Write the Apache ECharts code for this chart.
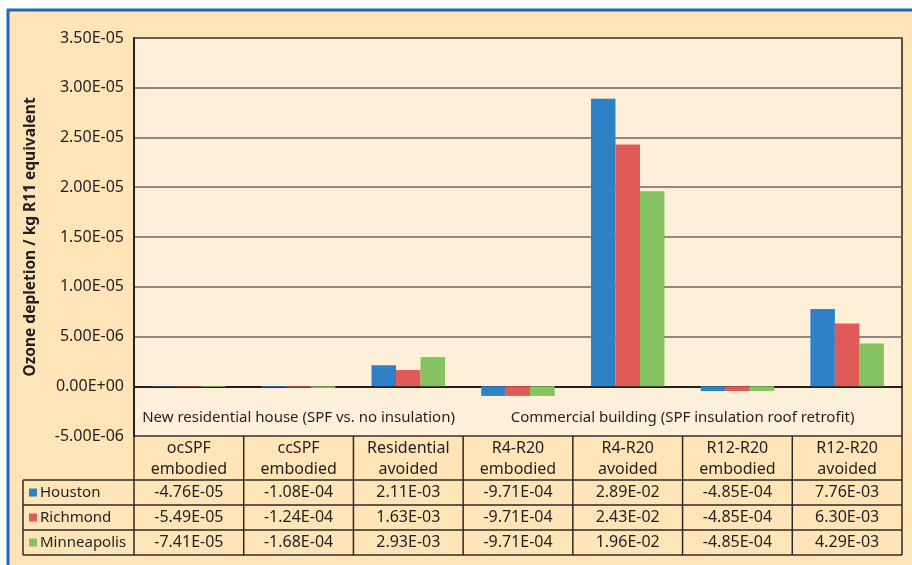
<!DOCTYPE html>
<html>
<head>
<meta charset="utf-8">
<script src="https://cdn.jsdelivr.net/npm/echarts@6/dist/echarts.min.js"></script>
<style>
  html, body { margin: 0; padding: 0; background: #fff; }
  #chart { width: 912px; height: 565px; }
</style>
</head>
<body>
<div id="chart"></div>
<script>
// categories (two header lines each)
const categories = [
  'ocSPF\nembodied', 'ccSPF\nembodied', 'Residential\navoided',
  'R4-R20\nembodied', 'R4-R20\navoided', 'R12-R20\nembodied', 'R12-R20\navoided'
]
const cities = ['Houston', 'Richmond', 'Minneapolis']
const colors = ['#2e81c4', '#e05a57', '#84c262']

// values printed in the table
const houstonTable     = [-4.76e-5, -1.08e-4, 2.11e-3, -9.71e-4, 2.89e-2, -4.85e-4, 7.76e-3]
const richmondTable    = [-5.49e-5, -1.24e-4, 1.63e-3, -9.71e-4, 2.43e-2, -4.85e-4, 6.30e-3]
const minneapolisTable = [-7.41e-5, -1.68e-4, 2.93e-3, -9.71e-4, 1.96e-2, -4.85e-4, 4.29e-3]

// values plotted as bars (kg R11 eq.)
const houstonBars     = [-4.76e-8, -1.08e-7, 2.11e-6, -9.71e-7, 2.89e-5, -4.85e-7, 7.76e-6]
const richmondBars    = [-5.49e-8, -1.24e-7, 1.63e-6, -9.71e-7, 2.43e-5, -4.85e-7, 6.30e-6]
const minneapolisBars = [-7.41e-8, -1.68e-7, 2.93e-6, -9.71e-7, 1.96e-5, -4.85e-7, 4.29e-6]

const groupLabels = [
  { text: 'New residential house (SPF vs. no insulation)', from: 0, to: 3 },
  { text: 'Commercial building (SPF insulation roof retrofit)', from: 3, to: 7 }
]

const tables = [houstonTable, richmondTable, minneapolisTable]
const bars = [houstonBars, richmondBars, minneapolisBars]

function sci (v) {
  const s = v.toExponential(2)
  const parts = s.split('e')
  const sign = parts[1][0]
  const exp = parts[1].slice(1).padStart(2, '0')
  return parts[0] + 'E' + sign + exp
}

// layout
const W = 912
const gridL = 134, gridT = 38, gridR = 10, gridB = 436
const colW = (W - gridL - gridR) / categories.length
const tableL = 23
const rowY = [436, 480, 505, 530, 555]
const font = '"Noto Sans", sans-serif'
const lineColor = '#2e2a26'

const graphic = []
function line (x1, y1, x2, y2, w, c) {
  graphic.push({ type: 'line', z: 100, shape: { x1, y1, x2, y2 },
    style: { stroke: c || lineColor, lineWidth: w || 1.5 } })
}
function text (t, x, y, size, align) {
  graphic.push({ type: 'text', z: 101, style: {
    text: t, x, y, fill: '#231f20', fontSize: size || 16, fontFamily: font,
    align: align || 'center', verticalAlign: 'middle',
    textAlign: align || 'center', textVerticalAlign: 'middle', lineHeight: 21 } })
}

// white margins and blue frame
graphic.push({ type: 'rect', z: 90, shape: { x: 0, y: 0, width: W, height: 9 }, style: { fill: '#fff' } })
graphic.push({ type: 'rect', z: 90, shape: { x: 0, y: 0, width: 7, height: 565 }, style: { fill: '#fff' } })
line(7, 10, W, 10, 3, '#1f6db0')
line(8, 9, 8, 565, 3, '#1f6db0')

// table grid
for (let k = 0; k <= categories.length; k++) {
  const x = gridL + k * colW
  line(x, rowY[0], x, rowY[4])
}
line(tableL, rowY[1], tableL, rowY[4])
for (let r = 1; r < rowY.length; r++) line(tableL, rowY[r], W - gridR, rowY[r])

// header and values
categories.forEach((c, i) => {
  const cx = gridL + (i + 0.5) * colW
  text(c, cx, (rowY[0] + rowY[1]) / 2 + 1)
  tables.forEach((t, r) => text(sci(t[i]), cx, (rowY[r + 1] + rowY[r + 2]) / 2))
})
cities.forEach((name, r) => {
  const cy = (rowY[r + 1] + rowY[r + 2]) / 2
  graphic.push({ type: 'rect', z: 101, shape: { x: 29, y: cy - 4, width: 8, height: 8 }, style: { fill: colors[r] } })
  text(name, 40, cy, 15, 'left')
})

// group captions inside the plot
groupLabels.forEach(g => {
  const cx = gridL + (g.from + g.to) / 2 * colW
  text(g.text, cx, 418, 15)
})

const option = {
  animation: false,
  backgroundColor: '#fee4b6',
  graphic: graphic,
  grid: {
    left: gridL, top: gridT, right: gridR, height: gridB - gridT,
    show: true, backgroundColor: '#feefd9', borderColor: '#231f20', borderWidth: 1.5
  },
  xAxis: {
    type: 'category',
    data: categories,
    axisLine: { onZero: true, lineStyle: { color: '#231f20', width: 2 } },
    axisTick: { show: false },
    axisLabel: { show: false }
  },
  yAxis: {
    type: 'value',
    min: -5e-6, max: 3.5e-5, interval: 5e-6,
    name: 'Ozone depletion / kg R11 equivalent',
    nameLocation: 'middle',
    nameRotate: 90,
    nameGap: 95,
    nameTextStyle: { fontFamily: font, fontWeight: 'bold', fontSize: 15.5, color: '#231f20' },
    axisLine: { show: true, lineStyle: { color: '#231f20', width: 2 } },
    axisTick: { show: false },
    axisLabel: { formatter: sci, fontFamily: font, fontSize: 16, color: '#231f20', margin: 10 },
    splitLine: { lineStyle: { color: '#6e655c', width: 1.5 } }
  },
  series: cities.map((name, i) => ({
    name: name,
    type: 'bar',
    data: bars[i],
    barGap: '0%',
    barCategoryGap: '33%',
    itemStyle: { color: colors[i] }
  }))
}

const chart = echarts.init(document.getElementById('chart'))
chart.setOption(option)
</script>
</body>
</html>
